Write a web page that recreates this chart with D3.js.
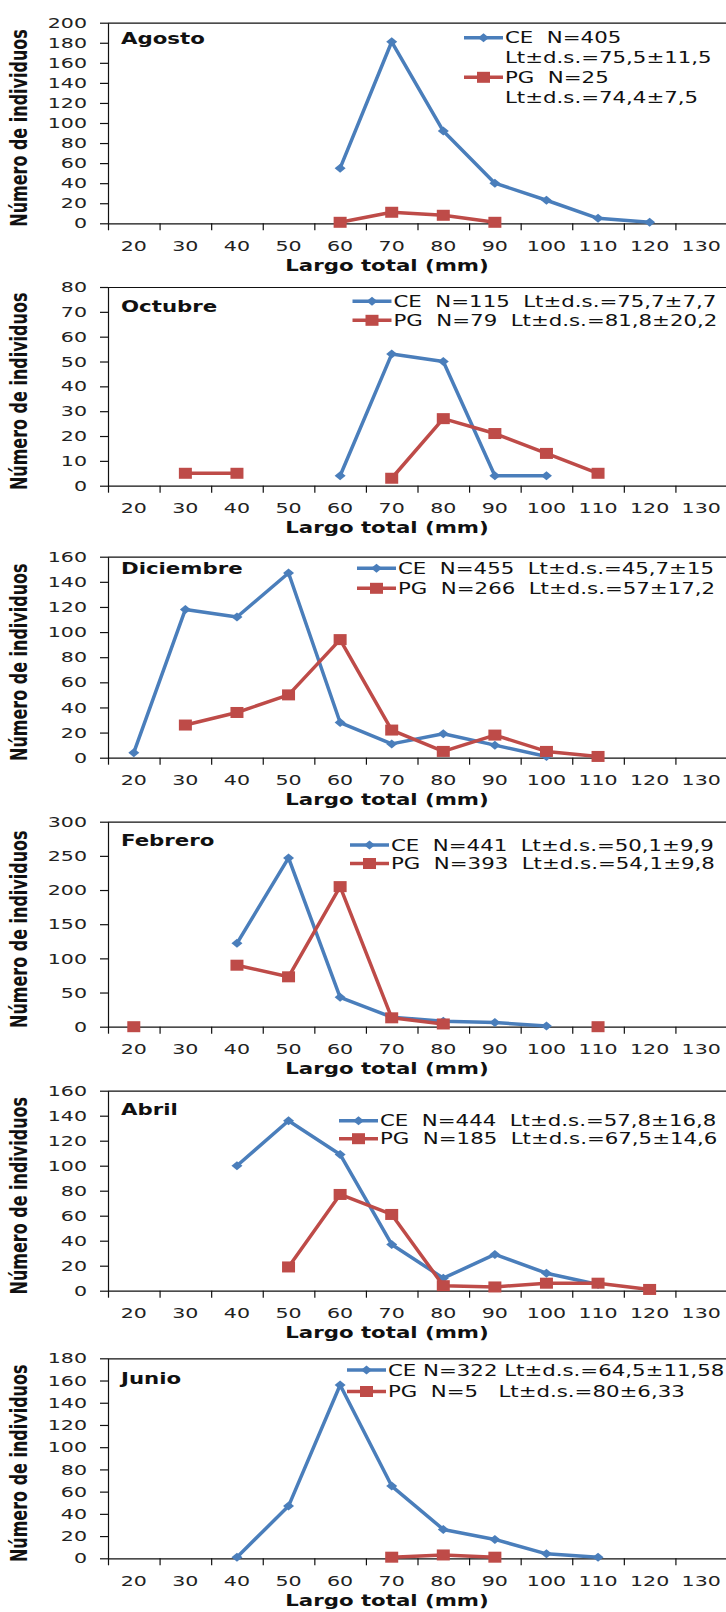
<!DOCTYPE html>
<html>
<head>
<meta charset="utf-8">
<script src="https://cdn.jsdelivr.net/npm/d3@7"></script>
<style>
  body { margin: 0; background: #fff; }
  svg { display: block; font-family: "DejaVu Sans", Verdana, sans-serif; }
  text { white-space: pre; }
</style>
</head>
<body>
<div id="chart"></div>
<script>
// length classes (mm), shared by every panel
var categories = [20, 30, 40, 50, 60, 70, 80, 90, 100, 110, 120, 130];

var months = ['Agosto', 'Octubre', 'Diciembre', 'Febrero', 'Abril', 'Junio'];
var yMax  = [200, 80, 160, 300, 160, 180];
var yStep = [20, 10, 20, 50, 20, 20];

// counts per length class (null = no point)
var ceAgosto    = [null, null, null, null, 55, 181, 92, 40, 23, 5, 1, null];
var pgAgosto    = [null, null, null, null, 1, 11, 8, 1, null, null, null, null];
var ceOctubre   = [null, null, null, null, 4, 53, 50, 4, 4, null, null, null];
var pgOctubre   = [null, 5, 5, null, null, 3, 27, 21, 13, 5, null, null];
var ceDiciembre = [4, 118, 112, 147, 28, 11, 19, 10, 1, null, null, null];
var pgDiciembre = [null, 26, 36, 50, 94, 22, 5, 18, 5, 1, null, null];
var ceFebrero   = [null, null, 122, 247, 43, 14, 8, 6, 1, null, null, null];
var pgFebrero   = [0, null, 90, 73, 205, 13, 4, null, null, 0, null, null];
var ceAbril     = [null, null, 100, 136, 109, 37, 10, 29, 14, 5, null, null];
var pgAbril     = [null, null, null, 19, 77, 61, 4, 3, 6, 6, 1, null];
var ceJunio     = [null, null, 1, 47, 156, 65, 26, 17, 4, 1, null, null];
var pgJunio     = [null, null, null, null, null, 1, 3, 1, null, null, null, null];

var ceSeries = [ceAgosto, ceOctubre, ceDiciembre, ceFebrero, ceAbril, ceJunio];
var pgSeries = [pgAgosto, pgOctubre, pgDiciembre, pgFebrero, pgAbril, pgJunio];

// legend texts (Agosto splits each entry in two lines)
var ceLegend = [
  ['CE  N=405', 'Lt±d.s.=75,5±11,5'],
  ['CE  N=115  Lt±d.s.=75,7±7,7'],
  ['CE  N=455  Lt±d.s.=45,7±15'],
  ['CE  N=441  Lt±d.s.=50,1±9,9'],
  ['CE  N=444  Lt±d.s.=57,8±16,8'],
  ['CE N=322 Lt±d.s.=64,5±11,58']
];
var pgLegend = [
  ['PG  N=25', 'Lt±d.s.=74,4±7,5'],
  ['PG  N=79  Lt±d.s.=81,8±20,2'],
  ['PG  N=266  Lt±d.s.=57±17,2'],
  ['PG  N=393  Lt±d.s.=54,1±9,8'],
  ['PG  N=185  Lt±d.s.=67,5±14,6'],
  ['PG  N=5   Lt±d.s.=80±6,33']
];

// layout of each panel: plot top, plot height, title centre, legend first row, legend text x
var layout = [
  {top: 22.7,   h: 200.6, titleDy: 16,   legDy: 15,   legX: 505,   rowGap: 19.8},
  {top: 287,    h: 198.7, titleDy: 19,   legDy: 14.3, legX: 393.5, rowGap: 19},
  {top: 556.7,  h: 201,   titleDy: 11.6, legDy: 11.6, legX: 398,   rowGap: 20},
  {top: 821.7,  h: 205,   titleDy: 19,   legDy: 23.3, legX: 391,   rowGap: 18.5},
  {top: 1090.7, h: 200,   titleDy: 18.3, legDy: 30,   legX: 380,   rowGap: 18},
  {top: 1358.3, h: 200,   titleDy: 19.7, legDy: 11.7, legX: 388,   rowGap: 21.5}
];

var svgWidth = 726, svgHeight = 1612;
var left = 108, right = 727;
var SX = 1.42; // the original image is stretched horizontally
var blue = '#4A7EBB', red = '#BE4B48';

var svg = d3.select('#chart').append('svg')
  .attr('width', svgWidth)
  .attr('height', svgHeight);

svg.append('rect').attr('width', svgWidth).attr('height', svgHeight).attr('fill', '#fff');

var xBand = d3.scaleBand().domain(categories).range([left, right]).padding(0);
var xEdge = d3.scaleLinear().domain([0, categories.length]).range([left, right]);
var cx = c => xBand(c) + xBand.bandwidth() / 2;

function stretchText(sel) {
  sel.each(function() {
    var t = d3.select(this);
    var x = +t.attr('x') || 0;
    t.attr('x', x / SX).attr('transform', `scale(${SX},1)`);
  });
}

function addText(g, x, y, str, size, weight, anchor) {
  return g.append('text')
    .attr('transform', `translate(${x},${y}) scale(${SX},1)`)
    .attr('font-size', size)
    .attr('font-weight', weight || 'normal')
    .attr('text-anchor', anchor || 'start')
    .attr('fill', '#111')
    .text(str);
}

function marker(g, kind, x, y, color) {
  if (kind === 'diamond') {
    g.append('path')
      .attr('d', `M${x - 5.5},${y} L${x},${y - 4.5} L${x + 5.5},${y} L${x},${y + 4.5} Z`)
      .attr('fill', color);
  } else {
    g.append('rect')
      .attr('x', x - 6.5).attr('y', y - 5.5)
      .attr('width', 13).attr('height', 11)
      .attr('fill', color);
  }
}

months.forEach(function(month, i) {
  var L = layout[i];
  var zero = L.top + L.h;
  var y = d3.scaleLinear().domain([0, yMax[i]]).range([zero, L.top]);
  var g = svg.append('g');

  // top border of plot area
  g.append('line')
    .attr('x1', left).attr('x2', right)
    .attr('y1', L.top + 0.5).attr('y2', L.top + 0.5)
    .attr('stroke', '#111').attr('stroke-width', 1.2);

  // y axis
  var yAxis = g.append('g')
    .attr('transform', `translate(${left},0)`)
    .call(d3.axisLeft(y)
      .tickValues(d3.range(0, yMax[i] + yStep[i], yStep[i]))
      .tickSize(8).tickSizeOuter(0).tickPadding(13));
  yAxis.select('.domain').attr('stroke', '#111').attr('stroke-width', 1.2);
  yAxis.selectAll('.tick line').attr('stroke', '#111').attr('stroke-width', 1.2);
  yAxis.selectAll('.tick text')
    .attr('font-size', 14.5).attr('fill', '#222')
    .attr('font-family', '"DejaVu Sans", Verdana, sans-serif')
    .call(stretchText);

  // x axis: tick marks on class boundaries, labels centred on classes
  var xTicks = g.append('g')
    .attr('transform', `translate(0,${zero})`)
    .call(d3.axisBottom(xEdge).tickValues(d3.range(0, categories.length + 1))
      .tickSize(7).tickSizeOuter(0).tickFormat(''));
  xTicks.select('.domain').attr('stroke', '#111').attr('stroke-width', 1.2);
  xTicks.selectAll('.tick line').attr('stroke', '#111').attr('stroke-width', 1.2);

  var xLabels = g.append('g')
    .attr('transform', `translate(0,${zero})`)
    .call(d3.axisBottom(xBand).tickSize(0).tickPadding(17));
  xLabels.select('.domain').remove();
  xLabels.selectAll('.tick text')
    .attr('font-size', 14.5).attr('fill', '#222')
    .attr('font-family', '"DejaVu Sans", Verdana, sans-serif')
    .call(stretchText);

  // axis titles
  addText(g, 387, zero + 47.5, 'Largo total (mm)', 15, 'bold', 'middle');
  g.append('text')
    .attr('transform', `translate(27,${L.top + L.h / 2 + 5}) scale(${SX},1) rotate(-90)`)
    .attr('font-size', 16)
    .attr('font-weight', 'bold')
    .attr('text-anchor', 'middle')
    .attr('fill', '#111')
    .text('Número de individuos');

  // month title
  addText(g, 121, L.top + L.titleDy + 5.5, month, 15, 'bold');

  // series
  var line = d3.line()
    .defined(d => d.v !== null)
    .x(d => cx(d.c))
    .y(d => y(d.v));

  [[ceSeries[i], blue, 'diamond'], [pgSeries[i], red, 'square']].forEach(function(s) {
    var pts = categories.map((c, k) => ({c: c, v: s[0][k]}));
    g.append('path')
      .datum(pts)
      .attr('d', line)
      .attr('fill', 'none')
      .attr('stroke', s[1])
      .attr('stroke-width', 3.5)
      .attr('stroke-linejoin', 'round');
    pts.filter(d => d.v !== null).forEach(d => marker(g, s[2], cx(d.c), y(d.v), s[1]));
  });

  // legend
  var rowY = L.top + L.legDy;
  [[ceLegend[i], blue, 'diamond'], [pgLegend[i], red, 'square']].forEach(function(e) {
    g.append('line')
      .attr('x1', L.legX - 41).attr('x2', L.legX - 2)
      .attr('y1', rowY).attr('y2', rowY)
      .attr('stroke', e[1]).attr('stroke-width', 3.5);
    marker(g, e[2], L.legX - 21.5, rowY, e[1]);
    e[0].forEach(function(str) {
      addText(g, L.legX, rowY + 5.5, str, 15, 'normal');
      rowY += L.rowGap;
    });
  });
});
</script>
</body>
</html>
